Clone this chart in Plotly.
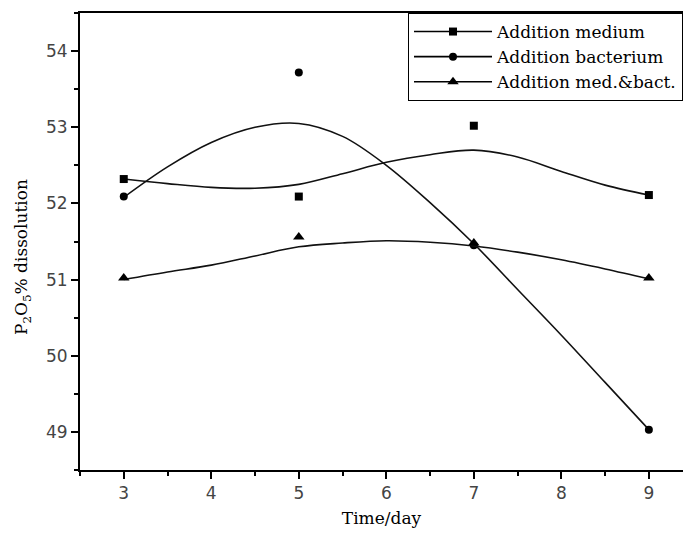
import plotly.graph_objects as go

# ---- data ----
days = [3, 5, 7, 9]
medium = [52.32, 52.09, 53.02, 52.11]
bacterium = [52.09, 53.72, 51.45, 49.03]
med_bact = [51.02, 51.56, 51.48, 51.02]

# smoothed curves as drawn in the reference (read at these x positions)
curve_x = [3, 3.5, 4, 4.5, 5, 5.5, 6, 6.5, 7, 7.5, 8, 8.5, 9]
medium_curve = [52.32, 52.26, 52.21, 52.20, 52.25, 52.39, 52.54, 52.64, 52.70, 52.61, 52.42, 52.24, 52.11]
bacterium_curve = [52.08, 52.48, 52.80, 53.00, 53.05, 52.88, 52.50, 52.01, 51.47, 50.87, 50.27, 49.65, 49.03]
med_bact_curve = [51.00, 51.10, 51.19, 51.31, 51.43, 51.48, 51.51, 51.49, 51.44, 51.36, 51.26, 51.14, 51.01]

names = ["Addition medium", "Addition bacterium", "Addition med.&bact."]
symbols = ["square", "circle", "triangle-up"]
sizes = [8, 8, 10]

x_ticks = [3, 4, 5, 6, 7, 8, 9]
y_ticks = [49, 50, 51, 52, 53, 54]

serif = "DejaVu Serif"
sans = "DejaVu Sans"

fig = go.Figure()

for name, sym, sz, pts, cy in zip(
    names, symbols, sizes,
    [medium, bacterium, med_bact],
    [medium_curve, bacterium_curve, med_bact_curve],
):
    fig.add_trace(go.Scatter(
        x=curve_x, y=cy, mode="lines",
        line=dict(color="#111", width=1.6, shape="spline", smoothing=1.0),
        showlegend=False, hoverinfo="skip"))
    fig.add_trace(go.Scatter(
        x=days, y=pts, mode="markers",
        marker=dict(symbol=sym, size=sz, color="black"),
        showlegend=False))
    # legend entry
    fig.add_trace(go.Scatter(
        x=[None], y=[None], mode="lines+markers", name=name,
        line=dict(color="black", width=1.6),
        marker=dict(symbol=sym, size=sz, color="black")))

fig.update_layout(
    width=688, height=535,
    margin=dict(l=80, r=5, t=13, b=65, autoexpand=False),
    paper_bgcolor="white", plot_bgcolor="white",
    showlegend=True,
    legend=dict(
        x=1.0, xanchor="right", y=1.0, yanchor="top",
        bgcolor="white", bordercolor="black", borderwidth=1,
        font=dict(family=serif, size=17, color="black"),
        itemwidth=78, tracegroupgap=0,
    ),
    xaxis=dict(
        range=[2.5, 9.39], tickmode="array", tickvals=x_ticks,
        ticktext=[str(v) for v in x_ticks],
        showgrid=False, zeroline=False, automargin=False,
        showline=True, linecolor="black", linewidth=2, mirror=True,
        ticks="outside", ticklen=7, tickwidth=2, tickcolor="black",
        tickfont=dict(family=sans, size=17, color="#444"),
        minor=dict(dtick=0.5, ticks="outside", ticklen=4, tickwidth=2, tickcolor="black", showgrid=False),
        title=dict(text="Time/day", font=dict(family=serif, size=17, color="black"), standoff=10),
    ),
    yaxis=dict(
        range=[48.5, 54.5], tickmode="array", tickvals=y_ticks,
        ticktext=[str(v) for v in y_ticks],
        showgrid=False, zeroline=False, automargin=False,
        showline=True, linecolor="black", linewidth=2, mirror=False,
        ticks="outside", ticklen=7, tickwidth=2, tickcolor="black",
        tickfont=dict(family=sans, size=17, color="#444"),
        minor=dict(dtick=0.5, ticks="outside", ticklen=4, tickwidth=2, tickcolor="black", showgrid=False),
    ),
    annotations=[dict(
        text="P<sub>2</sub>O<sub>5</sub>% dissolution",
        xref="paper", yref="paper", x=(22 - 80) / 603, y=(470 - 257) / 457,
        xanchor="center", yanchor="middle", textangle=-90, showarrow=False,
        font=dict(family=serif, size=17, color="black"),
    )],
)

fig.write_html(
    "out.html",
    config={"displayModeBar": False},
    post_script="document.body.style.margin='0px';document.body.style.overflow='hidden';",
)
